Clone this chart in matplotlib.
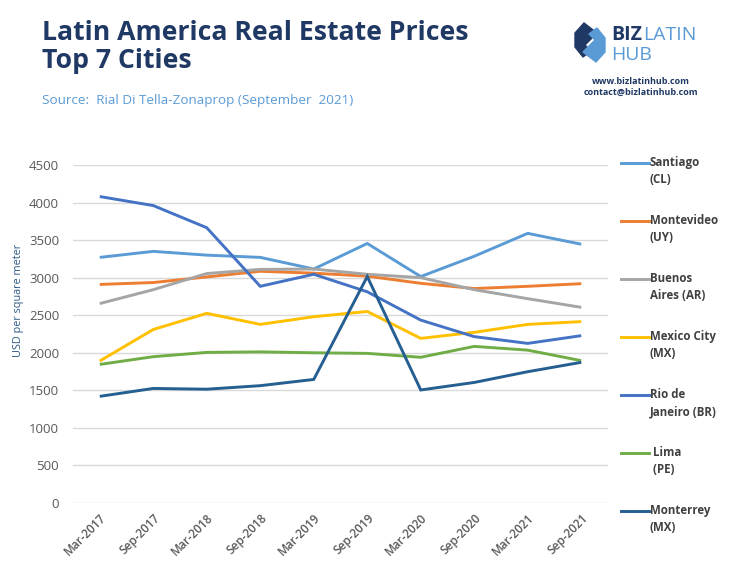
import matplotlib.pyplot as plt
from matplotlib.lines import Line2D
from matplotlib.patches import Polygon

dates = ['Mar-2017', 'Sep-2017', 'Mar-2018', 'Sep-2018', 'Mar-2019',
         'Sep-2019', 'Mar-2020', 'Sep-2020', 'Mar-2021', 'Sep-2021']

santiago = [3270, 3350, 3300, 3270, 3115, 3455, 3015, 3285, 3590, 3445]
montevideo = [2910, 2935, 3010, 3085, 3060, 3020, 2925, 2855, 2885, 2920]
buenos_aires = [2655, 2840, 3055, 3110, 3115, 3045, 3000, 2840, 2720, 2605]
mexico_city = [1890, 2310, 2525, 2378, 2480, 2550, 2192, 2272, 2378, 2415]
rio = [4080, 3960, 3665, 2885, 3045, 2812, 2435, 2215, 2125, 2228]
lima = [1845, 1948, 2005, 2012, 2000, 1992, 1940, 2085, 2035, 1895]
monterrey = [1420, 1525, 1515, 1562, 1645, 3015, 1505, 1605, 1748, 1873]

series = [
    ('Santiago\n(CL)', santiago, '#5B9BD5'),
    ('Montevideo\n(UY)', montevideo, '#ED7D31'),
    ('Buenos\nAires (AR)', buenos_aires, '#A5A5A5'),
    ('Mexico City\n(MX)', mexico_city, '#FFC000'),
    ('Rio de\nJaneiro (BR)', rio, '#4472C4'),
    (' Lima\n (PE)', lima, '#70AD47'),
    ('Monterrey\n(MX)', monterrey, '#255E91'),
]

plt.rcParams['font.family'] = ['Open Sans', 'DejaVu Sans']

fig = plt.figure(figsize=(7.56, 5.67), dpi=100)
ax = fig.add_axes([73/756, 1-503/567, 535/756, 338/567])

x = list(range(len(dates)))
for label, vals, col in series:
    ax.plot(x, vals, color=col, lw=2.1, solid_capstyle='butt', solid_joinstyle='miter')

ax.set_xlim(-0.5, len(dates)-0.5)
ax.set_ylim(0, 4500)
ax.set_yticks(range(0, 4501, 500))
ax.set_xticks(x)
ax.set_xticklabels(dates, rotation=45, ha='right', rotation_mode='anchor')
ax.grid(axis='y', color='#D9D9D9', lw=1)
ax.set_axisbelow(True)
for s in ax.spines.values():
    s.set_visible(False)
ax.tick_params(length=0, colors='#595959')
ax.tick_params(axis='y', pad=10, labelsize=9.5)
ax.tick_params(axis='x', pad=6, labelsize=8.5)
for t in ax.get_xticklabels():
    t.set_fontweight('semibold')
fig.text(19/756, 1-300/567, 'USD per square meter', color='#2E5A88', fontsize=7.8,
         rotation=90, va='center', ha='center')

# legend drawn by hand so the line sits next to the first text row
y0 = 1 - 163/567
step = 58/567
for i, (label, vals, col) in enumerate(series):
    yy = y0 - i*step
    fig.add_artist(Line2D([621/756, 649/756], [yy, yy], color=col, lw=2.1,
                          transform=fig.transFigure))
    fig.text(650/756, yy + 0.0125, label, fontsize=8.3, fontweight='bold',
             color='#404040', va='top', ha='left', linespacing=1.4)

# titles
fig.text(42/756, 1-20/567, 'Latin America Real Estate Prices\nTop 7 Cities',
         fontsize=19.2, fontweight='bold', color='#1F3864', va='top',
         ha='left', linespacing=1.1)
fig.text(42/756, 1-101/567, 'Source:  Rial Di Tella-Zonaprop (September  2021)',
         fontsize=9.7, color='#5B9BD5', va='center', ha='left')

# logo
lx, ly = 575, 23
pts1 = [(lx+9, ly), (lx+22, ly+10), (lx+10, ly+22), (lx+16, ly+28), (lx+8, ly+34),
        (lx, ly+24), (lx, ly+10)]
pts2 = [(lx+21, ly+39), (lx+8, ly+29), (lx+20, ly+17), (lx+14, ly+11), (lx+22, ly+5),
        (lx+30, ly+15), (lx+30, ly+29)]
for pts, col in [(pts1, '#1F3864'), (pts2, '#5B9BD5')]:
    fig.add_artist(Polygon([(px/756, 1-py/567) for px, py in pts], closed=True,
                           color=col, transform=fig.transFigure))
fig.text(611/756, 1-40/567, 'BIZ', fontsize=14, fontweight='bold', color='#1F3864',
         va='baseline', ha='left')
fig.text(643/756, 1-40/567, 'LATIN', fontsize=14, color='#5B9BD5',
         va='baseline', ha='left')
fig.text(611/756, 1-60/567, 'HUB', fontsize=14, color='#5B9BD5',
         va='baseline', ha='left')
fig.text(641/756, 1-82/567, 'www.bizlatinhub.com', fontsize=6.5, fontweight='bold',
         color='#1F3864', va='center', ha='center')
fig.text(641/756, 1-92/567, 'contact@bizlatinhub.com', fontsize=6.5, fontweight='bold',
         color='#1F3864', va='center', ha='center')

fig.savefig('out.png', dpi=100)
